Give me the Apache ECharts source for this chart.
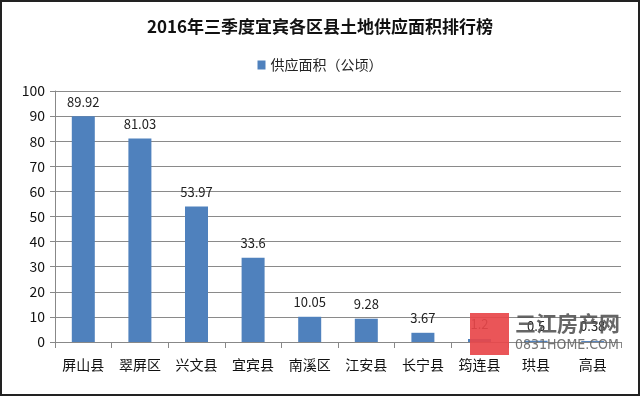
<!DOCTYPE html>
<html>
<head>
<meta charset="utf-8">
<script src="https://cdn.jsdelivr.net/npm/echarts@6/dist/echarts.min.js"></script>
<style>
html,body{margin:0;padding:0;background:#fff;}
#c{width:640px;height:396px;box-sizing:border-box;border:2px solid #222;}
</style>
</head>
<body>
<div id="c"></div>
<script>
const titleText = '2016年三季度宜宾各区县土地供应面积排行榜';
const seriesName = '供应面积（公顷）';
const categories = ['屏山县','翠屏区','兴文县','宜宾县','南溪区','江安县','长宁县','筠连县','珙县','高县'];
const values = [89.92, 81.03, 53.97, 33.6, 10.05, 9.28, 3.67, 1.2, 0.5, 0.38];
const yTicks = {min: 0, max: 100, interval: 10};

const chart = echarts.init(document.getElementById('c'), null, {renderer: 'canvas'});
const font = '"Noto Sans CJK SC", "Noto Sans", sans-serif';
chart.setOption({
  animation: false,
  backgroundColor: '#fff',
  title: {
    text: titleText, left: 'center', top: 11,
    textStyle: {fontFamily: font, fontSize: 17, fontWeight: 'bold', color: '#111'}
  },
  legend: {
    data: [seriesName], top: 51, left: 'center',
    icon: 'rect', itemWidth: 8, itemHeight: 9, itemGap: 4,
    textStyle: {fontFamily: font, fontSize: 14, color: '#222'}
  },
  grid: {left: 53, right: 17, top: 89, bottom: 52},
  xAxis: {
    type: 'category', data: categories,
    axisLine: {lineStyle: {color: '#888', width: 1}},
    axisTick: {show: true, length: 6, lineStyle: {color: '#888'}},
    axisLabel: {fontFamily: font, fontSize: 14, color: '#111', margin: 16, interval: 0}
  },
  yAxis: {
    type: 'value', min: yTicks.min, max: yTicks.max, interval: yTicks.interval,
    axisLine: {show: true, lineStyle: {color: '#888'}},
    axisTick: {show: true, length: 5, lineStyle: {color: '#888'}},
    axisLabel: {fontFamily: font, fontSize: 14, color: '#111', margin: 10},
    splitLine: {lineStyle: {color: '#8a8a8a', width: 1}}
  },
  series: [{
    name: seriesName, type: 'bar', data: values, barWidth: 23,
    itemStyle: {color: '#4f81bd'},
    label: {show: true, position: 'top', distance: 8, fontFamily: font, fontSize: 13, color: '#222'}
  }],
  graphic: [
    {type: 'rect', left: 468, top: 311, z: 100, shape: {width: 39, height: 42}, style: {fill: '#e8474a', opacity: 0.92}},
    {type: 'text', left: 513, top: 311, z: 100, style: {text: '三江房产网', fontFamily: font, fontSize: 21, fontWeight: 'bold', fill: '#555', opacity: 0.9}},
    {type: 'text', left: 513, top: 336, z: 100, style: {text: '0831HOME.COM', fontFamily: '"Liberation Sans Narrow", "DejaVu Sans Condensed", sans-serif', fontSize: 14, fill: '#666', opacity: 0.9}}
  ]
});
</script>
</body>
</html>
